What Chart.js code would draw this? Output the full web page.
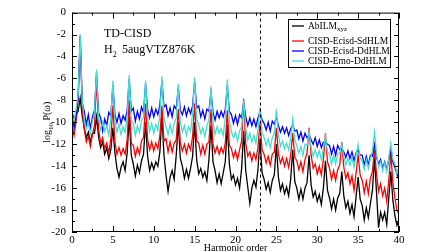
<!DOCTYPE html>
<html>
<head>
<meta charset="utf-8">
<script src="https://cdn.jsdelivr.net/npm/chart.js@4.4.1/dist/chart.umd.min.js"></script>
<style>
  html, body { margin: 0; padding: 0; background: #fff; }
  canvas { display: block; }
</style>
</head>
<body>
<canvas id="hhgChart" width="448" height="252"></canvas>
<script>
// harmonic order grid: 0 .. 40, one sample every quarter harmonic
const step = 0.25;

const seriesLabels = ['AbILM_xyz', 'CISD-Ecisd-SdHLM', 'CISD-Ecisd-DdHLM', 'CISD-Emo-DdHLM'];
const seriesColors = ['#000000', '#ff0000', '#0000ff', '#40e0d0'];

// log10 P(omega), one row = two harmonic orders
const abilm = [
  -9.0, -9.9, -9.3, -9.0, -7.8, -9.4, -10.5, -11.4,
  -10.9, -11.8, -11.0, -11.0, -9.5, -11.3, -12.3, -11.8,
  -12.9, -12.3, -13.3, -12.5, -10.5, -12.8, -14.2, -15.0,
  -14.1, -13.6, -14.4, -12.8, -9.5, -13.0, -13.8, -14.9,
  -13.9, -14.6, -13.5, -12.9, -10.0, -13.1, -14.4, -13.7,
  -14.3, -13.6, -14.0, -12.7, -9.3, -13.0, -14.8, -16.3,
  -15.0, -14.4, -15.2, -13.0, -10.0, -13.3, -14.0, -15.1,
  -14.3, -15.1, -14.2, -13.1, -10.0, -13.4, -14.7, -14.2,
  -15.0, -14.5, -15.3, -13.4, -10.3, -13.6, -14.4, -15.5,
  -14.7, -15.6, -14.6, -13.6, -10.2, -13.8, -15.2, -14.8,
  -15.7, -15.1, -16.0, -14.2, -10.8, -14.4, -15.9, -17.4,
  -16.0, -15.3, -15.9, -14.3, -11.5, -14.6, -15.2, -16.1,
  -15.5, -16.4, -15.3, -14.8, -12.0, -15.0, -16.2, -15.6,
  -16.5, -15.9, -16.7, -15.2, -12.5, -15.4, -16.0, -17.0,
  -16.1, -17.0, -16.0, -15.5, -13.0, -15.7, -16.8, -16.3,
  -17.2, -16.6, -17.5, -16.0, -13.5, -16.2, -16.9, -17.9,
  -17.0, -18.0, -16.9, -16.5, -14.5, -16.7, -17.8, -17.2,
  -18.3, -17.5, -18.6, -16.8, -15.0, -17.0, -17.6, -18.9,
  -17.8, -18.7, -17.4, -16.2, -13.2, -16.4, -19.6, -18.2,
  -18.9, -18.2, -19.3, -16.9, -14.5, -17.1, -18.5, -19.4,
  -18.9
];

const sdhlm = [
  -10.3, -11.2, -9.9, -8.0, -2.2, -8.5, -10.6, -11.8,
  -11.3, -12.2, -11.1, -10.3, -6.0, -10.6, -11.9, -11.4,
  -12.4, -11.9, -12.8, -11.5, -8.5, -11.8, -12.9, -12.3,
  -13.0, -12.4, -12.9, -11.6, -8.0, -11.9, -12.1, -13.1,
  -12.3, -12.9, -11.7, -11.4, -8.3, -11.6, -12.5, -11.8,
  -12.6, -11.9, -12.4, -11.2, -8.5, -11.7, -11.5, -12.7,
  -11.8, -12.7, -11.9, -11.6, -8.8, -11.9, -12.6, -12.0,
  -12.8, -12.0, -12.5, -11.3, -8.3, -11.7, -11.9, -12.9,
  -12.1, -12.9, -12.0, -11.8, -8.8, -12.0, -12.8, -12.2,
  -12.9, -12.3, -12.8, -11.9, -8.9, -12.1, -12.4, -13.2,
  -12.6, -13.4, -12.5, -11.7, -7.9, -11.9, -13.1, -12.7,
  -13.5, -12.8, -13.4, -12.3, -10.0, -12.5, -12.9, -13.7,
  -13.1, -13.9, -12.9, -12.7, -10.5, -12.9, -13.7, -13.2,
  -14.0, -13.3, -14.1, -13.0, -11.0, -13.2, -13.5, -14.3,
  -13.6, -14.5, -13.4, -12.8, -10.5, -13.0, -14.2, -13.8,
  -14.7, -14.0, -14.8, -13.4, -11.0, -13.6, -14.2, -15.2,
  -14.4, -15.3, -14.3, -13.9, -11.8, -14.1, -15.1, -14.6,
  -15.6, -14.9, -16.2, -14.6, -13.0, -14.8, -15.3, -16.4,
  -15.4, -16.5, -15.1, -14.5, -12.5, -14.7, -16.3, -15.6,
  -16.7, -16.0, -17.2, -15.3, -12.8, -15.5, -16.9, -18.0,
  -18.4
];

const ddhlm = [
  -9.0, -10.5, -9.4, -7.8, -2.1, -8.2, -9.0, -10.2,
  -9.3, -10.6, -9.5, -8.9, -5.5, -9.1, -9.6, -10.8,
  -9.7, -10.3, -9.1, -9.4, -6.6, -9.3, -10.0, -9.2,
  -10.1, -9.4, -9.8, -8.9, -6.0, -9.0, -8.7, -9.9,
  -9.0, -9.7, -8.6, -9.1, -6.5, -8.9, -9.6, -8.7,
  -9.5, -8.8, -9.3, -8.4, -6.2, -8.6, -8.4, -9.4,
  -8.7, -9.5, -8.5, -8.8, -6.8, -8.9, -9.3, -8.6,
  -9.4, -8.7, -9.2, -8.5, -6.3, -8.7, -8.5, -9.5,
  -8.9, -9.7, -8.8, -9.0, -7.2, -9.1, -9.8, -9.0,
  -9.6, -9.0, -9.5, -8.8, -6.6, -9.0, -9.3, -10.1,
  -9.4, -10.2, -9.3, -9.6, -8.2, -9.5, -10.3, -9.6,
  -10.3, -9.7, -10.4, -9.6, -9.0, -9.8, -10.1, -10.7,
  -10.0, -10.8, -9.9, -10.2, -9.5, -10.3, -10.9, -10.4,
  -11.0, -10.5, -11.2, -10.6, -10.2, -10.8, -10.7, -11.5,
  -10.9, -11.7, -11.0, -11.4, -11.2, -11.6, -12.0, -11.4,
  -12.2, -11.6, -12.3, -11.8, -11.8, -12.0, -12.1, -12.9,
  -12.2, -13.0, -12.1, -12.5, -12.4, -12.7, -13.2, -12.6,
  -13.3, -12.7, -13.5, -12.8, -12.5, -13.0, -13.0, -13.9,
  -13.1, -13.9, -13.0, -13.1, -12.0, -13.2, -13.8, -13.4,
  -14.2, -13.6, -14.3, -13.4, -12.5, -13.6, -14.1, -14.7,
  -15.3
];

const emoDdhlm = [
  -9.4, -9.9, -8.8, -7.5, -2.0, -8.0, -9.8, -10.6,
  -10.1, -11.0, -9.9, -9.2, -5.2, -9.6, -10.7, -10.0,
  -10.8, -10.3, -11.2, -9.6, -6.2, -9.9, -10.9, -10.2,
  -11.1, -10.4, -10.9, -9.4, -5.7, -9.8, -10.1, -11.2,
  -10.3, -10.9, -9.9, -9.5, -6.2, -9.7, -10.8, -10.1,
  -11.0, -10.2, -10.7, -9.3, -5.8, -9.6, -10.4, -11.1,
  -10.2, -11.0, -10.1, -9.6, -6.5, -9.9, -10.9, -10.3,
  -11.2, -10.4, -10.8, -9.2, -5.9, -9.7, -10.2, -11.0,
  -10.5, -11.3, -10.3, -9.8, -6.9, -10.0, -11.1, -10.4,
  -11.0, -10.6, -11.2, -9.5, -6.1, -9.9, -10.8, -11.4,
  -10.9, -11.7, -10.8, -10.4, -8.0, -10.5, -11.6, -11.0,
  -11.8, -11.2, -11.9, -10.6, -8.6, -10.9, -11.4, -12.1,
  -11.5, -12.3, -11.4, -11.0, -8.8, -11.2, -12.2, -11.7,
  -12.4, -11.9, -12.5, -11.5, -9.7, -11.6, -12.1, -12.8,
  -12.2, -13.0, -12.0, -12.1, -10.8, -12.3, -13.1, -12.5,
  -13.2, -12.6, -13.4, -12.4, -11.3, -12.7, -12.9, -13.8,
  -13.0, -13.8, -12.9, -12.8, -12.0, -13.1, -13.9, -13.3,
  -13.9, -13.2, -14.1, -13.0, -12.0, -13.3, -13.5, -14.3,
  -13.4, -14.2, -13.3, -12.6, -10.9, -12.9, -14.1, -13.6,
  -14.4, -13.7, -14.5, -13.2, -11.9, -13.4, -13.8, -14.6,
  -14.0
];

const markerOrder = 23;          // dashed vertical line
const xTicks = [0, 5, 10, 15, 20, 25, 30, 35, 40];
const yTicks = [-20, -18, -16, -14, -12, -10, -8, -6, -4, -2, 0];

const serif = '"Liberation Serif", "Times New Roman", serif';
const allSeries = [abilm, sdhlm, ddhlm, emoDdhlm];

function toPoints(vals) {
  return vals.map((v, i) => ({ x: i * step, y: v }));
}

// draw text with an optional _subscript part
function drawSub(ctx, text, x, y, size) {
  const parts = text.split('_');
  ctx.font = size + 'px ' + serif;
  ctx.fillText(parts[0], x, y);
  let w = ctx.measureText(parts[0]).width;
  if (parts[1]) {
    ctx.font = Math.round(size * 0.7) + 'px ' + serif;
    ctx.fillText(parts[1], x + w, y + size * 0.35);
    w += ctx.measureText(parts[1]).width;
  }
  return w;
}

const decor = {
  id: 'decor',
  afterDatasetsDraw(chart) {
    const { ctx, chartArea: a, scales: { x, y } } = chart;
    ctx.save();
    ctx.strokeStyle = '#000';
    ctx.fillStyle = '#000';
    ctx.lineWidth = 1;

    // dashed marker
    const xm = Math.round(x.getPixelForValue(markerOrder)) + 0.5;
    ctx.setLineDash([3, 3]);
    ctx.beginPath();
    ctx.moveTo(xm, a.top);
    ctx.lineTo(xm, a.bottom);
    ctx.stroke();
    ctx.setLineDash([]);

    // frame
    ctx.strokeRect(a.left + 0.5, a.top + 0.5, a.width - 1, a.height - 1);

    // inward ticks on all four sides
    ctx.beginPath();
    for (let v = 0; v <= 40; v += 2.5) {
      const px = Math.round(x.getPixelForValue(v)) + 0.5;
      const len = v % 5 === 0 ? 6 : 3;
      ctx.moveTo(px, a.bottom); ctx.lineTo(px, a.bottom - len);
      ctx.moveTo(px, a.top); ctx.lineTo(px, a.top + len);
    }
    for (let v = -20; v <= 0; v += 1) {
      const py = Math.round(y.getPixelForValue(v)) + 0.5;
      const len = v % 2 === 0 ? 5 : 3;
      ctx.moveTo(a.left, py); ctx.lineTo(a.left + len, py);
      ctx.moveTo(a.right, py); ctx.lineTo(a.right - len, py);
    }
    ctx.stroke();

    // annotation
    ctx.textBaseline = 'alphabetic';
    ctx.textAlign = 'left';
    ctx.font = '12px ' + serif;
    ctx.fillText('TD-CISD', 104, 37);
    drawSub(ctx, 'H_2', 104, 53, 12);
    ctx.font = '12px ' + serif;
    ctx.fillText('5augVTZ876K', 122, 53);

    // legend
    const bx = 288, by = 19, bw = 102, bh = 48;
    ctx.fillStyle = '#fff';
    ctx.fillRect(bx, by, bw, bh);
    ctx.strokeRect(bx + 0.5, by + 0.5, bw, bh);
    const rows = [26, 41, 51, 61];
    chart.data.datasets.forEach((ds, i) => {
      ctx.strokeStyle = ds.borderColor;
      ctx.lineWidth = 1.3;
      ctx.beginPath();
      ctx.moveTo(292, rows[i]);
      ctx.lineTo(304, rows[i]);
      ctx.stroke();
      ctx.fillStyle = '#000';
      ctx.textBaseline = 'middle';
      drawSub(ctx, ds.label, 308, rows[i], 9.5);
    });

    // axis titles
    ctx.fillStyle = '#000';
    ctx.textBaseline = 'middle';
    ctx.textAlign = 'center';
    ctx.font = '10px ' + serif;
    ctx.fillText('Harmonic order', (a.left + a.right) / 2, 248);

    ctx.translate(47, (a.top + a.bottom) / 2);
    ctx.rotate(-Math.PI / 2);
    ctx.textAlign = 'left';
    ctx.font = '10px ' + serif;
    const w1 = ctx.measureText('log').width;
    ctx.font = '7px ' + serif;
    const w2 = ctx.measureText('10').width;
    ctx.font = '10px ' + serif;
    const w3 = ctx.measureText(' P(\u03c9)').width;
    let cx = -(w1 + w2 + w3) / 2;
    ctx.fillText('log', cx, 0);
    cx += w1;
    ctx.font = '7px ' + serif;
    ctx.fillText('10', cx, 4);
    cx += w2;
    ctx.font = '10px ' + serif;
    ctx.fillText(' P(\u03c9)', cx, 0);
    ctx.restore();
  }
};

const ctx = document.getElementById('hhgChart').getContext('2d');
new Chart(ctx, {
  type: 'line',
  data: {
    datasets: allSeries.map((vals, i) => ({
      label: seriesLabels[i],
      data: toPoints(vals),
      borderColor: seriesColors[i],
      borderWidth: 1.3,
      pointRadius: 0,
      tension: 0,
      fill: false,
      order: 4 - i
    }))
  },
  options: {
    responsive: false,
    animation: false,
    events: [],
    layout: { autoPadding: false, padding: { left: 0, right: 49, top: 4, bottom: 0 } },
    plugins: { legend: { display: false }, tooltip: { enabled: false } },
    scales: {
      x: {
        type: 'linear', min: 0, max: 40,
        afterBuildTicks: s => { s.ticks = xTicks.map(v => ({ value: v })); },
        afterFit: s => { s.height = 20; },
        grid: { display: false, drawTicks: false },
        border: { display: false },
        ticks: { padding: 2, maxRotation: 0, color: '#000', font: { family: serif, size: 11 } }
      },
      y: {
        min: -20, max: 0,
        afterBuildTicks: s => { s.ticks = yTicks.map(v => ({ value: v })); },
        afterFit: s => { s.width = 72; },
        grid: { display: false, drawTicks: false },
        border: { display: false },
        ticks: { padding: 6, color: '#000', font: { family: serif, size: 11 } }
      }
    }
  },
  plugins: [decor]
});
</script>
</body>
</html>
